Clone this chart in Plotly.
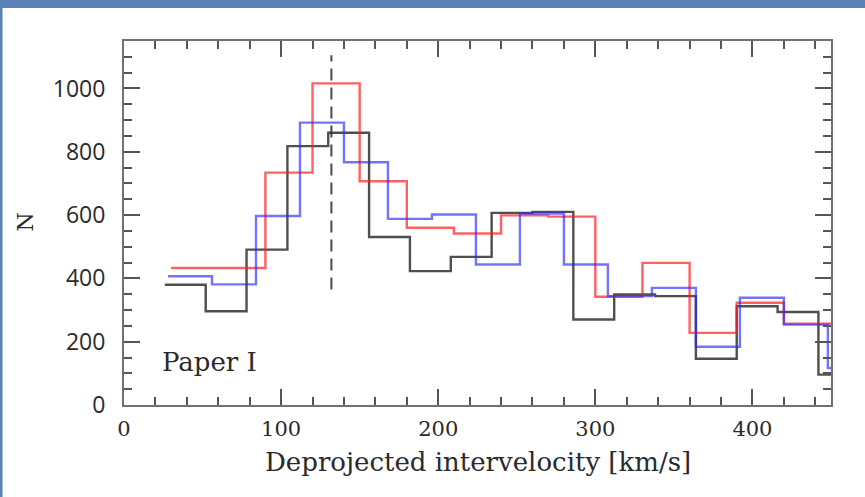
import plotly.graph_objects as go

# ---- data ----
black_edges = [26, 52, 78, 104, 130, 156, 182, 208, 234, 260, 286, 312, 338, 364, 390, 416, 442, 468]
black_counts = [380, 296, 491, 818, 860, 531, 423, 468, 607, 610, 270, 349, 344, 146, 312, 294, 96]

blue_edges = [28, 56, 84, 112, 140, 168, 196, 224, 252, 280, 308, 336, 364, 392, 420, 448, 476]
blue_counts = [407, 381, 597, 892, 767, 588, 602, 444, 605, 444, 344, 370, 184, 339, 254, 117]

red_edges = [30, 60, 90, 120, 150, 180, 210, 240, 270, 300, 330, 360, 390, 420, 450]
red_counts = [433, 433, 734, 1016, 707, 560, 542, 599, 595, 342, 449, 228, 323, 257]

peak_x = 132
peak_y = [365, 1105]

x_ticks = [0, 100, 200, 300, 400]
y_ticks = [0, 200, 400, 600, 800, 1000]

W, H = 865, 497
L, R, T, B = 124, 34, 41, 92
pw, ph = W - L - R, H - T - B


def step_xy(edges, counts):
    return list(edges), list(counts) + [counts[-1]]


fig = go.Figure()

for edges, counts, col in [
    (black_edges, black_counts, "rgba(20,20,20,0.75)"),
    (red_edges, red_counts, "rgba(255,30,30,0.7)"),
    (blue_edges, blue_counts, "rgba(40,40,255,0.65)"),
]:
    xs, ys = step_xy(edges, counts)
    fig.add_trace(go.Scatter(x=xs, y=ys, mode="lines", line_shape="hv",
                             line=dict(color=col, width=2.4), showlegend=False,
                             hoverinfo="skip"))

fig.add_trace(go.Scatter(x=[peak_x, peak_x], y=peak_y, mode="lines",
                         line=dict(color="rgba(40,40,40,0.85)", width=2, dash="12px,7px"),
                         showlegend=False, hoverinfo="skip"))

axis_common = dict(showline=True, linecolor="#707070", linewidth=2,
                   ticks="inside", mirror="ticks", tickcolor="#555555", tickwidth=2,
                   ticklen=16, showgrid=False, zeroline=False)

fig.update_xaxes(range=[0, 450], tickvals=x_ticks, **axis_common,
                 minor=dict(ticks="inside", dtick=20, ticklen=8, tickcolor="#555555", tickwidth=1.5, showgrid=False),
                 tickfont=dict(family="DejaVu Serif", size=21, color="#2a2a2a"),
                 ticklabelstandoff=4)
fig.update_yaxes(range=[0, 1150], tickvals=y_ticks, **axis_common,
                 minor=dict(ticks="inside", dtick=50, ticklen=8, tickcolor="#555555", tickwidth=1.5, showgrid=False),
                 tickfont=dict(family="Open Sans", size=23, color="#2a2a2a"),
                 ticklabelstandoff=12)

# frame bands (top and left)
fig.add_shape(type="rect", xref="paper", yref="paper",
              x0=-L / pw, x1=(W - L) / pw, y0=(H - B - 8) / ph, y1=(H - B) / ph + 0.01,
              fillcolor="#5a82b6", line_width=0, layer="above")
fig.add_shape(type="rect", xref="paper", yref="paper",
              x0=-L / pw - 0.01, x1=(-L + 2.5) / pw, y0=-B / ph - 0.01, y1=(H - B) / ph + 0.01,
              fillcolor="#5a82b6", line_width=0, layer="above")

fig.add_annotation(text="Paper I", x=23, y=137, xref="x", yref="y",
                   xanchor="left", yanchor="middle", showarrow=False,
                   font=dict(family="DejaVu Serif", size=26, color="#2a2a2a"))
fig.add_annotation(text="Deprojected intervelocity [km/s]", x=0.5,
                   y=(405.5 - 463) / ph, xref="paper", yref="paper",
                   xanchor="center", yanchor="middle", showarrow=False,
                   font=dict(family="DejaVu Serif", size=26, color="#2a2a2a"))
fig.add_annotation(text="N", x=(25 - L) / pw, y=(405.5 - 223) / ph,
                   xref="paper", yref="paper", textangle=-90,
                   xanchor="center", yanchor="middle", showarrow=False,
                   font=dict(family="DejaVu Serif", size=22, color="#2a2a2a"))

fig.update_layout(width=W, height=H, margin=dict(l=L, r=R, t=T, b=B),
                  paper_bgcolor="white", plot_bgcolor="white")

fig.write_html("out.html", config={"displayModeBar": False},
               post_script="document.body.style.margin='0px';")
